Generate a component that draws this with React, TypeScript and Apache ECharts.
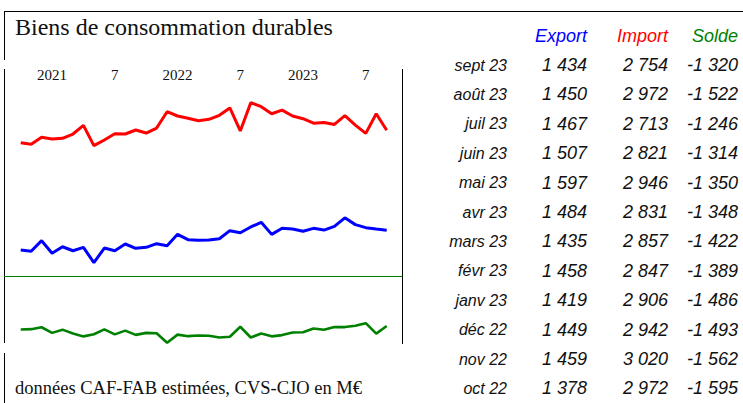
import React, { useEffect, useRef } from "react";
import * as echarts from "echarts";

const months = [
  "2020-10", "2020-11", "2020-12",
  "2021-01", "2021-02", "2021-03", "2021-04", "2021-05", "2021-06",
  "2021-07", "2021-08", "2021-09", "2021-10", "2021-11", "2021-12",
  "2022-01", "2022-02", "2022-03", "2022-04", "2022-05", "2022-06",
  "2022-07", "2022-08", "2022-09", "2022-10", "2022-11", "2022-12",
  "2023-01", "2023-02", "2023-03", "2023-04", "2023-05", "2023-06",
  "2023-07", "2023-08", "2023-09",
];

const exportValues = [
  1172, 1155, 1295,
  1128, 1215, 1162, 1207, 1004, 1198,
  1162, 1251, 1194, 1207, 1255, 1229,
  1379, 1308, 1300, 1304, 1321, 1427,
  1400, 1476, 1538, 1378, 1459, 1449,
  1419, 1458, 1435, 1484, 1597, 1507,
  1467, 1450, 1434,
];

const importValues = [
  2589, 2568, 2660,
  2638, 2647, 2704, 2819, 2550, 2625,
  2708, 2704, 2757, 2717, 2783, 2999,
  2942, 2912, 2880, 2898, 2951, 3048,
  2744, 3118, 3065, 2972, 3020, 2942,
  2906, 2847, 2857, 2831, 2946, 2821,
  2713, 2972, 2754,
];

const soldeValues = [
  -1412, -1405, -1355,
  -1503, -1418, -1520, -1596, -1538, -1412,
  -1543, -1444, -1556, -1503, -1515, -1765,
  -1550, -1590, -1573, -1580, -1625, -1605,
  -1342, -1625, -1520, -1595, -1562, -1493,
  -1486, -1389, -1422, -1348, -1350, -1314,
  -1246, -1522, -1320,
];

const frMonthNames = ["janv", "févr", "mars", "avr", "mai", "juin", "juil", "août", "sept", "oct", "nov", "déc"];
const seriesNames = ["Export", "Import", "Solde"];
const seriesColors = ["#0000ff", "#ff0000", "#008000"];
const titleText = "Biens de consommation durables";
const footnoteText = "données CAF-FAB estimées, CVS-CJO en M€";
const tableRowCount = 12;

function fmt(v: number): string {
  const s = Math.abs(v).toString().replace(/\B(?=(\d{3})+(?!\d))/g, " ");
  return (v < 0 ? "-" : "") + s;
}

function monthLabel(m: string): string {
  const [y, mm] = m.split("-");
  return frMonthNames[parseInt(mm, 10) - 1] + " " + y.slice(2);
}

export default function App() {
  const ref = useRef<HTMLDivElement>(null);

  useEffect(() => {
    if (!ref.current) return;
    const chart = echarts.init(ref.current, undefined, { renderer: "svg" });
    const serif = '"Liberation Serif", "Times New Roman", serif';
    const sans = '"Liberation Sans", Arial, sans-serif';

    const option: any = {
      animation: false,
      backgroundColor: "#ffffff",
      grid: { left: 20.7, right: 356.3, top: 66.2, bottom: 64.3, containLabel: false },
      xAxis: {
        type: "category",
        data: months,
        boundaryGap: false,
        position: "top",
        axisLine: { show: false },
        axisTick: { show: false },
        splitLine: { show: false },
        axisLabel: {
          inside: true,
          margin: 1.5,
          interval: 0,
          color: "#111",
          fontFamily: serif,
          fontSize: 15,
          formatter: (v: string) => {
            const [y, m] = v.split("-");
            if (m === "01") return y;
            if (m === "07") return "7";
            return "";
          },
        },
      },
      yAxis: [
        { type: "value", min: 0, max: 3600, show: false, splitLine: { show: false } },
        { type: "value", min: -1657, max: 5543, show: false, splitLine: { show: false } },
      ],
      series: [
        {
          name: seriesNames[0], type: "line", data: exportValues, yAxisIndex: 0, clip: false,
          symbol: "none", lineStyle: { color: seriesColors[0], width: 3 }, itemStyle: { color: seriesColors[0] },
        },
        {
          name: seriesNames[1], type: "line", data: importValues, yAxisIndex: 0, clip: false,
          symbol: "none", lineStyle: { color: seriesColors[1], width: 3 }, itemStyle: { color: seriesColors[1] },
        },
        {
          name: seriesNames[2], type: "line", data: soldeValues, yAxisIndex: 1, clip: false,
          symbol: "none", lineStyle: { color: seriesColors[2], width: 2.6 }, itemStyle: { color: seriesColors[2] },
        },
      ],
    };
    chart.setOption(option);

    const y0 = chart.convertToPixel({ yAxisIndex: 1 } as any, 0) as unknown as number;

    const frameStyle = { stroke: "#000", lineWidth: 1 };
    const elements: any[] = [
      { type: "line", shape: { x1: 4, y1: 11.5, x2: 743, y2: 11.5 }, style: frameStyle },
      { type: "line", shape: { x1: 4.5, y1: 11, x2: 4.5, y2: 60 }, style: frameStyle },
      { type: "line", shape: { x1: 4.5, y1: 69, x2: 4.5, y2: 343 }, style: frameStyle },
      { type: "line", shape: { x1: 402.5, y1: 69, x2: 402.5, y2: 344 }, style: frameStyle },
      { type: "line", shape: { x1: 4.5, y1: 353, x2: 4.5, y2: 403 }, style: frameStyle },
      {
        type: "line",
        shape: { x1: 4, y1: Math.round(y0) + 0.5, x2: 402, y2: Math.round(y0) + 0.5 },
        style: { stroke: seriesColors[2], lineWidth: 1 },
      },
      {
        type: "text", x: 15, y: 26.5,
        style: { text: titleText, font: `24px ${serif}`, fill: "#111", textAlign: "left", textVerticalAlign: "middle" },
      },
      {
        type: "text", x: 15, y: 387.8,
        style: { text: footnoteText, font: `18.5px ${serif}`, fill: "#111", textAlign: "left", textVerticalAlign: "middle" },
      },
    ];

    const colX = [587, 668, 738];
    const labelX = 507;
    const headerY = 36;
    const rowY0 = 65;
    const rowStep = 29.4;

    seriesNames.forEach((n, k) => {
      elements.push({
        type: "text", x: colX[k], y: headerY,
        style: { text: n, font: `italic 18px ${sans}`, fill: seriesColors[k], textAlign: "right", textVerticalAlign: "middle" },
      });
    });

    const seriesArrays = [exportValues, importValues, soldeValues];
    for (let r = 0; r < tableRowCount; r++) {
      const idx = months.length - 1 - r;
      const y = rowY0 + r * rowStep;
      elements.push({
        type: "text", x: labelX, y,
        style: { text: monthLabel(months[idx]), font: `italic 16px ${sans}`, fill: "#111", textAlign: "right", textVerticalAlign: "middle" },
      });
      seriesArrays.forEach((arr, k) => {
        elements.push({
          type: "text", x: colX[k], y,
          style: { text: fmt(arr[idx]), font: `italic 18px ${sans}`, fill: "#111", textAlign: "right", textVerticalAlign: "middle" },
        });
      });
    }

    chart.setOption({ graphic: elements });

    return () => chart.dispose();
  }, []);

  return (
    <div
      ref={ref}
      style={{ position: "fixed", left: 0, top: 0, width: 743, height: 403, background: "#fff" }}
    />
  );
}
